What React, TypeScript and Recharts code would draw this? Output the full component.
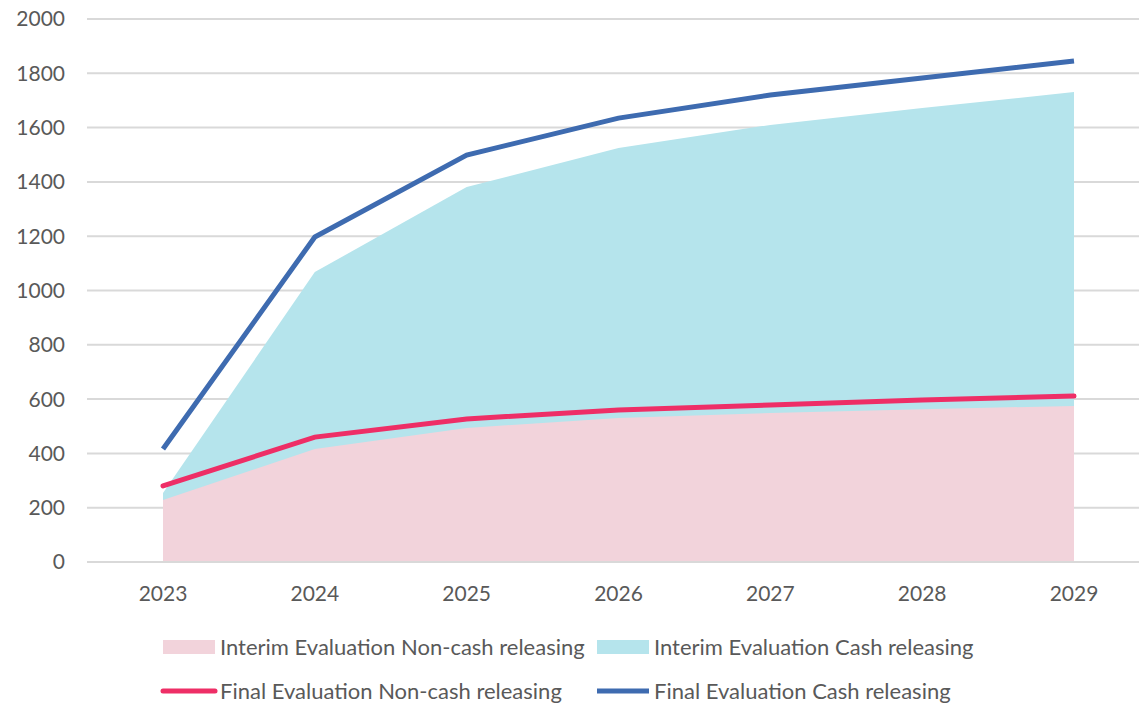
import React from "react";
import { ComposedChart, Area, Line, XAxis, YAxis, CartesianGrid, Legend } from "recharts";

const years = ["2023", "2024", "2025", "2026", "2027", "2028", "2029"];
const interimNonCash = [228, 416, 494, 530, 549, 563, 575];
const interimCash = [254, 1068, 1381, 1525, 1610, 1672, 1731];
const finalNonCash = [280, 460, 527, 560, 578, 597, 611];
const finalCash = [416, 1197, 1499, 1635, 1720, 1783, 1845];
const yTicks = [0, 200, 400, 600, 800, 1000, 1200, 1400, 1600, 1800, 2000];

const data = years.map((y, i) => ({
  year: y,
  interimNonCash: interimNonCash[i],
  interimCash: interimCash[i],
  finalNonCash: finalNonCash[i],
  finalCash: finalCash[i],
}));

const FONT = "Lato, 'Open Sans', sans-serif";
const TEXT = "#595959";
const PINK = "#f2d3db";
const CYAN = "#b5e4ec";
const RED = "#ee2e66";
const BLUE = "#3e6bb0";

const legendItems = [
  { label: "Interim Evaluation Non-cash releasing", color: PINK, kind: "rect", x: 163, y: 647 },
  { label: "Interim Evaluation Cash releasing", color: CYAN, kind: "rect", x: 597, y: 647 },
  { label: "Final Evaluation Non-cash releasing", color: RED, kind: "line", x: 163, y: 691 },
  { label: "Final Evaluation Cash releasing", color: BLUE, kind: "line", x: 597, y: 691 },
];

const LegendContent = () => (
  <svg width={1139} height={703} style={{ position: "absolute", left: 0, top: 0, pointerEvents: "none" }}>
    {legendItems.map((it) => (
      <g key={it.label}>
        {it.kind === "rect" ? (
          <rect x={it.x} y={it.y - 7} width={52} height={14} fill={it.color} />
        ) : (
          <line x1={it.x} x2={it.x + 52} y1={it.y} y2={it.y} stroke={it.color} strokeWidth={5} strokeLinecap={it.color === RED ? "round" : "butt"} />
        )}
        <text x={it.x + 57} y={it.y} dy="0.35em" fontFamily={FONT} fontSize={22} fill={TEXT}>
          {it.label}
        </text>
      </g>
    ))}
  </svg>
);

export default function App() {
  return (
    <div style={{ position: "absolute", left: 0, top: 0, width: 1139, height: 703, background: "#fff" }}>
      <ComposedChart width={1139} height={703} data={data} margin={{ top: 19, right: 0, bottom: 101, left: 0 }}>
        <CartesianGrid vertical={false} stroke="#d9d9d9" strokeWidth={2} />
        <XAxis
          dataKey="year"
          padding={{ left: 76, right: 65 }}
          axisLine={{ stroke: "#d9d9d9", strokeWidth: 2 }}
          tickLine={false}
          tickSize={0}
          tickMargin={24}
          height={40}
          tick={{ fontFamily: FONT, fontSize: 21, fill: TEXT }}
        />
        <YAxis
          domain={[0, 2000]}
          ticks={yTicks}
          axisLine={false}
          tickLine={false}
          tickSize={0}
          tickMargin={22}
          width={87}
          tick={{ fontFamily: FONT, fontSize: 21, fill: TEXT }}
        />
        <Area dataKey="interimCash" type="linear" stroke="none" fill={CYAN} fillOpacity={1} isAnimationActive={false} />
        <Area dataKey="interimNonCash" type="linear" stroke="none" fill={PINK} fillOpacity={1} isAnimationActive={false} />
        <Line dataKey="finalNonCash" type="linear" stroke={RED} strokeWidth={5} strokeLinecap="round" dot={false} isAnimationActive={false} />
        <Line dataKey="finalCash" type="linear" stroke={BLUE} strokeWidth={5} dot={false} isAnimationActive={false} />
        <Legend content={() => null} />
      </ComposedChart>
      <LegendContent />
    </div>
  );
}
